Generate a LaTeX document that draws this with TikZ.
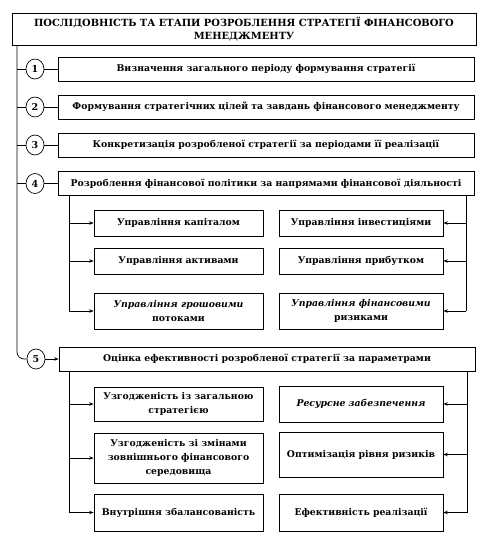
\documentclass[tikz,border=0pt]{standalone}
\usepackage{fontspec}
\setmainfont{DejaVu Serif}
\usetikzlibrary{arrows.meta,shapes.geometric}
\begin{document}
\begin{tikzpicture}[x=1pt,y=-1pt,
  every node/.style={inner sep=1pt, align=center},
  box/.style={draw, line width=0.7pt, font=\bfseries\fontsize{9.3}{14}\selectfont},
  mainbox/.style={box, minimum width=416pt, minimum height=24pt},
  subL/.style={box, minimum width=169pt},
  subR/.style={box, minimum width=164pt},
  num/.style={draw, ellipse, line width=0.7pt, minimum width=18pt, minimum height=20pt, inner sep=0pt, font=\bfseries\fontsize{9.5}{11}\selectfont},
  conn/.style={line width=0.7pt},
  arr/.style={conn, -{Stealth[length=4.5pt,width=3.5pt]}}
]
\useasboundingbox (0,0) rectangle (489,538);
\node[box, minimum width=464pt, minimum height=32pt, font=\bfseries\fontsize{9.9}{13}\selectfont] (title) at (244,29)
  {ПОСЛІДОВНІСТЬ ТА ЕТАПИ РОЗРОБЛЕННЯ СТРАТЕГІЇ ФІНАНСОВОГО\\МЕНЕДЖМЕНТУ};

\node[mainbox] (b1) at (266,69) {Визначення загального періоду формування стратегії};
\node[mainbox] (b2) at (266,107) {Формування стратегічних цілей та завдань фінансового менеджменту};
\node[mainbox] (b3) at (266,145) {Конкретизація розробленої стратегії за періодами її реалізації};
\node[mainbox] (b4) at (266,183.5) {Розроблення фінансової політики за напрямами фінансової діяльності};
\node[mainbox] (b5) at (267,359) {Оцінка ефективності розробленої стратегії за параметрами};

\node[num] (c1) at (35,69) {1};
\node[num] (c2) at (35,107) {2};
\node[num] (c3) at (35,145) {3};
\node[num] (c4) at (35,183.5) {4};
\node[num] (c5) at (36,359) {5};

% section 4 sub boxes
\node[subL, minimum height=26pt] (s41) at (178.5,223) {Управління капіталом};
\node[subL, minimum height=26pt] (s42) at (178.5,261) {Управління активами};
\node[subL, minimum height=36pt] (s43) at (178.5,311) {\itshape Управління грошовими\\потоками};
\node[subR, minimum height=26pt] (s44) at (361,223) {Управління інвестиціями};
\node[subR, minimum height=26pt] (s45) at (361,261) {Управління прибутком};
\node[subR, minimum height=36pt] (s46) at (361,311) {\itshape Управління фінансовими\\ризиками};

% section 5 sub boxes
\node[subL, minimum height=34pt] (s51) at (178.5,404) {Узгодженість із загальною\\стратегією};
\node[subL, minimum height=50pt] (s52) at (178.5,458) {Узгодженість зі змінами\\зовнішнього фінансового\\середовища};
\node[subL, minimum height=37pt] (s53) at (178.5,512.5) {Внутрішня збалансованість};
\node[subR, minimum height=36pt] (s54) at (361,404) {\itshape Ресурсне забезпечення};
\node[subR, minimum height=45pt] (s55) at (361,454.5) {Оптимізація рівня ризиків};
\node[subR, minimum height=37pt] (s56) at (361,512.5) {Ефективність реалізації};

% main spine
\coordinate (L) at (17,45);
\draw[conn, rounded corners=7pt] (L) |- (c5.west);
\foreach \i in {1,2,3,4}{
  \draw[conn] (c\i.west) -- (c\i.west -| L);
  \draw[conn] (c\i.east) -- (b\i.west);
}
\draw[arr] (c5.east) -- (b5.west);

% section 4 brackets
\coordinate (l4) at (69,195.5);
\coordinate (r4) at (466,195.5);
\draw[conn] (l4) -- (l4 |- s43.west);
\draw[conn] (r4) -- (r4 |- s46.east);
\foreach \s in {s41,s42,s43}{ \draw[arr] (l4 |- \s.west) -- (\s.west); }
\foreach \s in {s44,s45,s46}{ \draw[arr] (r4 |- \s.east) -- (\s.east); }

% section 5 brackets
\coordinate (l5) at (69,371);
\coordinate (r5) at (467,371);
\draw[conn] (l5) -- (l5 |- s53.west);
\draw[conn] (r5) -- (r5 |- s56.east);
\foreach \s in {s51,s52,s53}{ \draw[arr] (l5 |- \s.west) -- (\s.west); }
\foreach \s in {s54,s55,s56}{ \draw[arr] (r5 |- \s.east) -- (\s.east); }
\end{tikzpicture}
\end{document}
